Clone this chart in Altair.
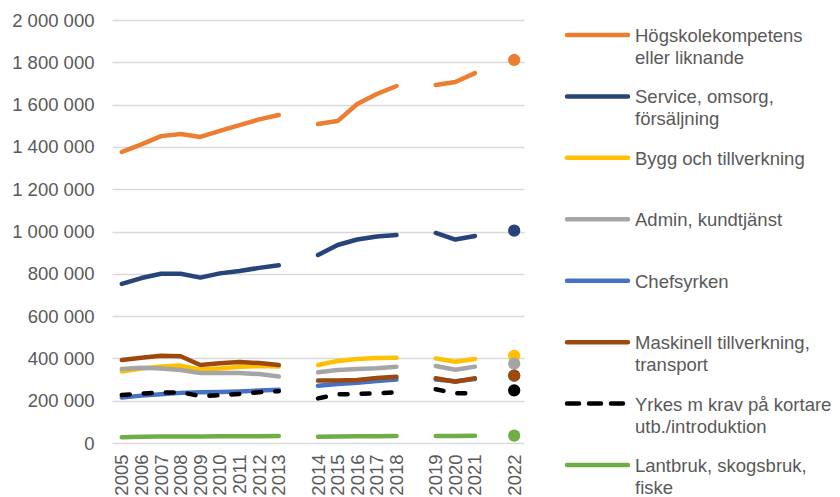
import altair as alt
import pandas as pd

# ---- data ----
years = ["2005", "2006", "2007", "2008", "2009", "2010", "2011", "2012", "2013",
         "2014", "2015", "2016", "2017", "2018",
         "2019", "2020", "2021",
         "2022"]
segments = [1] * 9 + [2] * 5 + [3] * 3 + [4]
x_domain = years[:9] + [" "] + years[9:14] + ["  "] + years[14:17] + ["   "] + years[17:]

series_names = [
    "Högskolekompetens eller liknande",
    "Service, omsorg, försäljning",
    "Bygg och tillverkning",
    "Admin, kundtjänst",
    "Chefsyrken",
    "Maskinell tillverkning, transport",
    "Yrkes m krav på kortare utb./introduktion",
    "Lantbruk, skogsbruk, fiske",
]
legend_labels = [
    "Högskolekompetens|eller liknande",
    "Service, omsorg,|försäljning",
    "Bygg och tillverkning",
    "Admin, kundtjänst",
    "Chefsyrken",
    "Maskinell tillverkning,|transport",
    "Yrkes m krav på kortare|utb./introduktion",
    "Lantbruk, skogsbruk,|fiske",
]
colors = ["#ED7D31", "#264478", "#FFC000", "#A5A5A5", "#4472C4", "#9E480E", "#000000", "#70AD47"]
dash_types = ["solid", "solid", "solid", "solid", "solid", "solid", "dash", "solid"]

hogskola = [1376000, 1412000, 1451000, 1461000, 1447000, 1476000, 1503000, 1530000, 1551000,
            1508000, 1522000, 1603000, 1650000, 1688000,
            1693000, 1707000, 1749000,
            1811000]
service = [752000, 780000, 800000, 800000, 782000, 802000, 813000, 828000, 840000,
           889000, 936000, 962000, 976000, 983000,
           993000, 962000, 979000,
           1004000]
bygg = [338000, 352000, 362000, 366000, 347000, 352000, 360000, 364000, 362000,
        369000, 388000, 397000, 402000, 403000,
        400000, 384000, 397000,
        412000]
admin = [350000, 356000, 352000, 345000, 331000, 331000, 331000, 326000, 314000,
         334000, 345000, 350000, 353000, 361000,
         364000, 346000, 361000,
         375000]
chef = [215000, 224000, 231000, 237000, 240000, 241000, 244000, 248000, 252000,
        271000, 279000, 285000, 293000, 300000,
        300000, 292000, 303000,
        318000]
maskin = [392000, 403000, 412000, 410000, 369000, 377000, 383000, 378000, 369000,
          295000, 296000, 298000, 307000, 313000,
          306000, 290000, 306000,
          319000]
yrkes = [227000, 234000, 238000, 240000, 222000, 226000, 232000, 240000, 245000,
         211000, 230000, 232000, 235000, 240000,
         254000, 235000, 236000,
         249000]
lantbruk = [27000, 29000, 31000, 31000, 31000, 32000, 32000, 32000, 33000,
            30000, 31000, 32000, 32000, 33000,
            33000, 33000, 34000,
            35000]

all_values = [hogskola, service, bygg, admin, chef, maskin, yrkes, lantbruk]

rows = []
for i, (name, vals) in enumerate(zip(series_names, all_values)):
    for y, s, v in zip(years, segments, vals):
        rows.append({"series": name, "year": y, "seg": s, "value": v, "ord": i})
df = pd.DataFrame(rows)

FONT = "Liberation Sans"
TXT = "#595959"

color_scale = alt.Scale(domain=series_names, range=colors)
x_enc = alt.X("year:O", scale=alt.Scale(domain=x_domain),
              axis=alt.Axis(title=None, labelAngle=270, domain=False, ticks=False, grid=False,
                            labelFontSize=18.5, labelColor=TXT, labelFont=FONT, labelPadding=11))
y_enc = alt.Y("value:Q", scale=alt.Scale(domain=[0, 2000000], nice=False),
              axis=alt.Axis(title=None, values=list(range(0, 2000001, 200000)),
                            labelExpr="replace(replace(format(datum.value, ','), ',', ' '), ',', ' ')",
                            domain=False, ticks=False, gridColor="#D9D9D9", gridWidth=1.3,
                            labelFontSize=18.5, labelColor=TXT, labelFont=FONT, labelPadding=18))

layers = []
for i, name in enumerate(series_names):
    sub = df[(df.series == name) & (df.year != "2022")]
    mk = dict(strokeWidth=4.5, strokeCap="round", strokeJoin="round")
    if dash_types[i] == "dash":
        mk["strokeDash"] = [8, 14]
    layer = alt.Chart(sub).mark_line(**mk).encode(
        x=x_enc if i == 0 else alt.X("year:O"),
        y=y_enc if i == 0 else alt.Y("value:Q"),
        color=alt.Color("series:N", scale=color_scale, legend=None),
        detail="seg:N",
    )
    layers.append(layer)

pts = alt.Chart(df[df.year == "2022"]).mark_circle(size=150, opacity=1).encode(
    x=alt.X("year:O"),
    y=alt.Y("value:Q"),
    color=alt.Color("series:N", scale=color_scale, legend=None),
    order=alt.Order("ord:Q"),
)
layers.append(pts)

main = alt.layer(*layers).properties(width=412, height=423)

# ---- legend ----
leg_df = pd.DataFrame({
    "series": series_names,
    "label": legend_labels,
    "idx": list(range(len(series_names))),
    "dash": dash_types,
})
leg_y = alt.Y("idx:Q", scale=alt.Scale(domain=[-0.244, 7.244], reverse=True), axis=None)
leg_rule = alt.Chart(leg_df).mark_rule(strokeWidth=4.5, strokeCap="round").encode(
    x=alt.value(2), x2=alt.value(63), y=leg_y,
    color=alt.Color("series:N", scale=color_scale, legend=None),
    strokeDash=alt.StrokeDash("dash:N", scale=alt.Scale(domain=["solid", "dash"], range=[[1, 0], [12, 10]]),
                              legend=None),
)
leg_text = alt.Chart(leg_df).mark_text(align="left", baseline="top", dy=-8, fontSize=18.5, lineHeight=22,
                                       color=TXT, font=FONT, lineBreak="|").encode(
    x=alt.value(70), y=leg_y, text="label:N",
)
legend = alt.layer(leg_rule, leg_text).properties(width=255, height=460)

chart = alt.hconcat(main, legend, spacing=40).configure_view(stroke=None).properties(
    padding={"left": 3, "top": 3, "right": 0, "bottom": 0}
)

chart.save("out.html", embed_options={"renderer": "svg", "actions": False})
